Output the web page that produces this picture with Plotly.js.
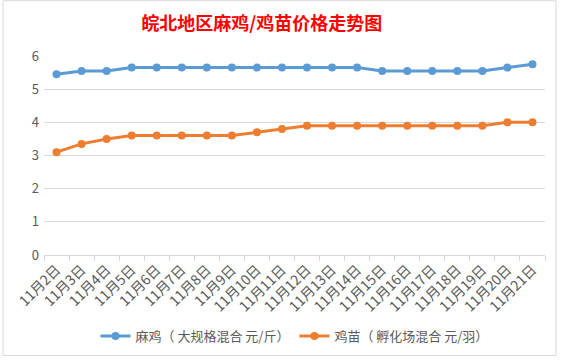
<!DOCTYPE html>
<html>
<head>
<meta charset="utf-8">
<script src="https://cdn.plot.ly/plotly-3.0.1.min.js"></script>
<style>
html,body{margin:0;padding:0;background:#fff;}
#chart{width:563px;height:361px;}
</style>
</head>
<body>
<div id="chart"></div>
<script>
const categories = ["11月2日","11月3日","11月4日","11月5日","11月6日","11月7日","11月8日","11月9日","11月10日","11月11日","11月12日","11月13日","11月14日","11月15日","11月16日","11月17日","11月18日","11月19日","11月20日","11月21日"];
const seriesNames = ["麻鸡（ 大规格混合 元/斤）", "鸡苗（ 孵化场混合 元/羽）"];
const majiValues = [5.45,5.55,5.55,5.65,5.65,5.65,5.65,5.65,5.65,5.65,5.65,5.65,5.65,5.55,5.55,5.55,5.55,5.55,5.65,5.75];
const jimiaoValues = [3.1,3.35,3.5,3.6,3.6,3.6,3.6,3.6,3.7,3.8,3.9,3.9,3.9,3.9,3.9,3.9,3.9,3.9,4.0,4.0];
const yTicks = [0,1,2,3,4,5,6];
const titleText = "皖北地区麻鸡/鸡苗价格走势图";

const font = "'Noto Sans CJK SC', 'Microsoft YaHei', sans-serif";
const traces = [
  {x: categories, y: majiValues, name: seriesNames[0], type: "scatter", mode: "lines+markers",
   line: {color: "#5B9BD5", width: 3}, marker: {color: "#5B9BD5", size: 8}},
  {x: categories, y: jimiaoValues, name: seriesNames[1], type: "scatter", mode: "lines+markers",
   line: {color: "#ED7D31", width: 3}, marker: {color: "#ED7D31", size: 8}}
];
const L = 44, R = 545, T = 56, B = 256;
const W = R - L, H = B - T;
function px(x){return (x - L) / W;}
function py(y){return (B - y) / H;}
const layout = {
  width: 563, height: 361,
  margin: {l: L, r: 563 - R, t: T, b: 361 - B},
  paper_bgcolor: "#ffffff", plot_bgcolor: "#ffffff",
  font: {family: font, color: "#595959", size: 12},
  title: {text: titleText, x: 0.465, xanchor: "center", y: 0.935, yanchor: "middle",
          font: {family: font, size: 18, color: "#FF0000", weight: "bold"}},
  showlegend: true,
  legend: {orientation: "h", x: 0.5, xanchor: "center", y: py(336), yanchor: "middle",
           font: {family: font, size: 13, color: "#595959"}, itemwidth: 30, tracegroupgap: 0},
  xaxis: {type: "category", tickangle: -45, tickson: "boundaries", ticks: "outside", ticklen: 5,
          tickcolor: "#d9d9d9", showline: true, linecolor: "#d9d9d9", linewidth: 1,
          showgrid: false, tickfont: {family: font, size: 14, color: "#595959"},
          range: [-0.5, categories.length - 0.5], fixedrange: true},
  yaxis: {range: [0, 6], tickvals: yTicks, showgrid: true, gridcolor: "#d9d9d9", gridwidth: 1,
          zeroline: false, showline: false, ticks: "", ticklabelstandoff: 4,
          tickfont: {family: font, size: 13, color: "#595959"}, fixedrange: true},
  shapes: [
    {type: "rect", xref: "paper", yref: "paper", x0: px(3), x1: px(556), y0: py(357), y1: py(0.5),
     line: {color: "#d9d9d9", width: 1}, fillcolor: "rgba(0,0,0,0)", layer: "below"}
  ]
};
Plotly.newPlot("chart", traces, layout, {displayModeBar: false, staticPlot: true});
</script>
</body>
</html>
